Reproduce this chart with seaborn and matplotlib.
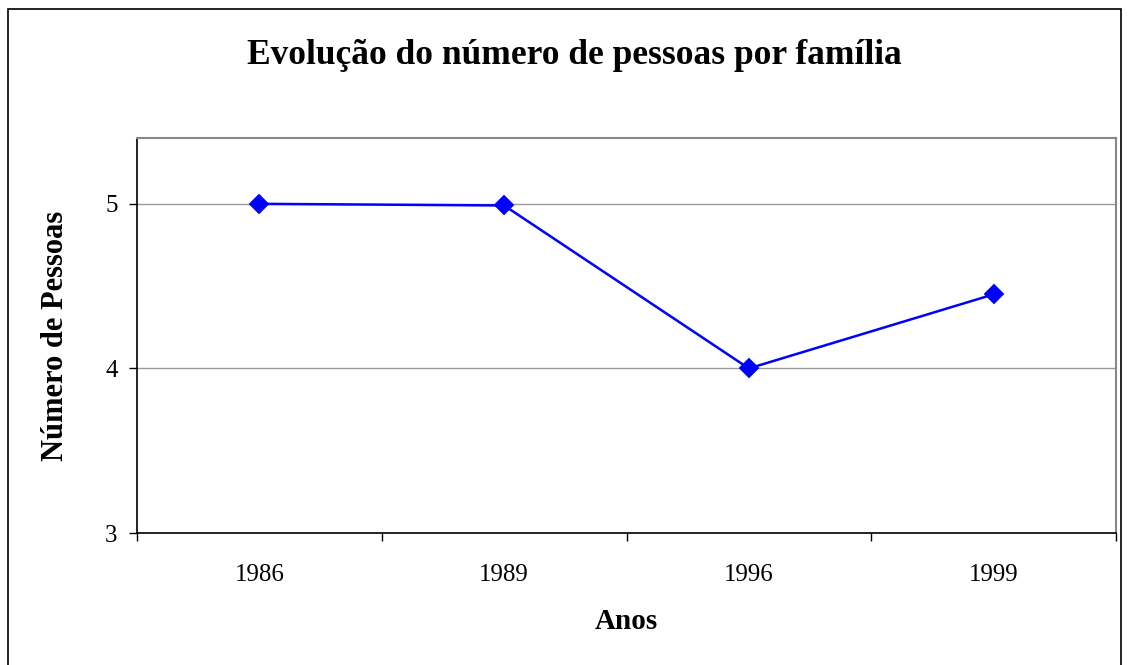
import pandas as pd
import matplotlib.pyplot as plt
import seaborn as sns
from matplotlib.patches import Rectangle

#------data------
anos = ["1986", "1989", "1996", "1999"]
pessoas = [5.0, 4.99, 4.0, 4.45]
y_ticks = [3, 4, 5]

df = pd.DataFrame({"Anos": anos, "Pessoas": pessoas})

sns.set_theme(style="white")
plt.rcParams['font.family'] = ['Liberation Serif', 'DejaVu Serif']
plt.rcParams['text.color'] = 'black'
plt.rcParams['axes.labelcolor'] = 'black'
plt.rcParams['xtick.color'] = 'black'
plt.rcParams['ytick.color'] = 'black'

fig = plt.figure(figsize=(11.3, 6.65), dpi=100)
ax = fig.add_axes([137/1130, 1 - 533/665, (1116 - 137)/1130, (533 - 138)/665])

sns.pointplot(data=df, x="Anos", y="Pessoas", color="#0000FF", markers="D",
              markersize=9, linewidth=1.8, ax=ax)

#------axes styling------
ax.set_xlim(-0.5, len(anos) - 0.5)
ax.set_ylim(3, 5.4)
ax.set_yticks(y_ticks)
ax.set_yticklabels([str(t) for t in y_ticks], fontsize=18)
ax.yaxis.grid(True, color="#999999", linewidth=1)
ax.xaxis.grid(False)
ax.set_axisbelow(True)

# tick marks between categories, labels at the centres
ax.set_xticks([i - 0.5 for i in range(len(anos) + 1)])
ax.set_xticklabels([])
ax.set_xticks(range(len(anos)), minor=True)
ax.set_xticklabels(anos, minor=True, fontsize=18)
ax.tick_params(axis="x", which="major", direction="out", length=6, width=1, color="black", bottom=True)
ax.tick_params(axis="x", which="minor", length=0, pad=22)
ax.tick_params(axis="y", direction="out", length=6, width=1, color="black", left=True, pad=8)

for side in ["left", "bottom"]:
    ax.spines[side].set_color("black")
    ax.spines[side].set_linewidth(1.2)
for side in ["top", "right"]:
    ax.spines[side].set_color("#888888")
    ax.spines[side].set_linewidth(1.5)

ax.set_xlabel("Anos", fontsize=21, fontweight="bold", labelpad=16)
ax.set_ylabel("Número de Pessoas", fontsize=22, fontweight="bold", labelpad=25)

fig.text(574/1130, 1 - 55/665, "Evolução do número de pessoas por família",
         ha="center", va="center", fontsize=25.5, fontweight="bold")

# outer chart frame
fig.patches.append(Rectangle((8/1130, -0.02), (1121 - 8)/1130, 1.02 - 9/665,
                             transform=fig.transFigure, fill=False,
                             edgecolor="black", linewidth=1.2))

fig.savefig("out.png", dpi=100)
